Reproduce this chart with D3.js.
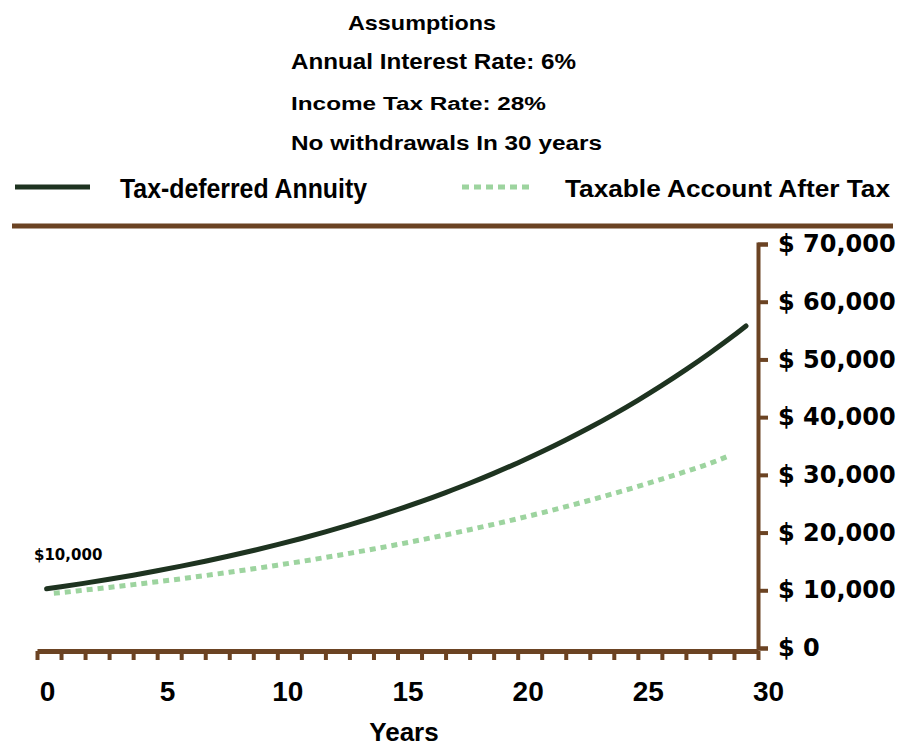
<!DOCTYPE html>
<html>
<head>
<meta charset="utf-8">
<script src="https://cdn.jsdelivr.net/npm/d3@7"></script>
<style>
  body { margin: 0; background: #fff; }
  svg text { font-weight: bold; fill: #000; }
</style>
</head>
<body>
<svg id="chart" width="904" height="747"></svg>
<script>
// values
const annuityYears  = [0.4, 1, 2, 3, 4, 5, 6, 7, 8, 9, 10, 11, 12, 13, 14, 15, 16, 17, 18, 19, 20, 21, 22, 23, 24, 25, 26, 27, 28, 29, 29.5];
const annuityValues = [10250, 10600, 11240, 11910, 12620, 13380, 14190, 15040, 15940, 16890, 17910, 18980, 20120, 21330, 22610, 23970, 25400, 26930, 28540, 30260, 32070, 34000, 36040, 38200, 40490, 42920, 45500, 48230, 51120, 54180, 55800];

const taxableYears  = [0.7, 1, 2, 3, 4, 5, 6, 7, 8, 9, 10, 11, 12, 13, 14, 15, 16, 17, 18, 19, 20, 21, 22, 23, 24, 25, 26, 27, 28, 28.8];
const taxableValues = [9500, 9600, 10050, 10500, 10980, 11480, 12000, 12550, 13120, 13720, 14350, 15000, 15680, 16400, 17150, 17930, 18750, 19600, 20500, 21430, 22400, 23420, 24490, 25600, 26770, 27990, 29260, 30590, 31990, 33300];

const yTicks = [0, 10000, 20000, 30000, 40000, 50000, 60000, 70000];
const xTicks = d3.range(0, 31);
const xLabels = [0, 5, 10, 15, 20, 25, 30];

const notes = ["Assumptions", "Annual Interest Rate: 6%", "Income Tax Rate: 28%", "No withdrawals In 30 years"];
const seriesNames = ["Tax-deferred Annuity", "Taxable Account After Tax"];

const brown = "#6b4323";
const dark = "#1e3320";
const green = "#9dd49f";
const sans = "'Liberation Sans', Arial, sans-serif";
const wide = "'DejaVu Sans', sans-serif";

const svg = d3.select("#chart");

const x = d3.scaleLinear().domain([0, 30]).range([37, 758]);
const y = d3.scaleLinear().domain([0, 70000]).range([648, 244]);

// header notes
const noteStyle = [
  { y: 30, size: 21, len: 148 },
  { y: 69, size: 22, len: 285 },
  { y: 110, size: 18, len: 255 },
  { y: 150, size: 20, len: 311 }
];
svg.selectAll(".note")
  .data(notes)
  .enter()
  .append("text")
  .attr("class", "note")
  .attr("x", (d, i) => i === 0 ? 348 : 291)
  .attr("y", (d, i) => noteStyle[i].y)
  .style("font-family", sans)
  .style("font-size", (d, i) => noteStyle[i].size + "px")
  .attr("textLength", (d, i) => noteStyle[i].len)
  .attr("lengthAdjust", "spacingAndGlyphs")
  .text(d => d);

// legend
svg.append("line")
  .attr("x1", 15).attr("x2", 90).attr("y1", 187).attr("y2", 187)
  .attr("stroke", dark).attr("stroke-width", 5);
svg.append("text")
  .attr("x", 120).attr("y", 198)
  .style("font-family", sans)
  .style("font-size", "27px")
  .attr("textLength", 247).attr("lengthAdjust", "spacingAndGlyphs")
  .text(seriesNames[0]);

svg.append("line")
  .attr("x1", 462).attr("x2", 533).attr("y1", 187).attr("y2", 187)
  .attr("stroke", green).attr("stroke-width", 5)
  .attr("stroke-dasharray", "7 5");
svg.append("text")
  .attr("x", 565).attr("y", 197)
  .style("font-family", sans)
  .style("font-size", "23px")
  .attr("textLength", 325).attr("lengthAdjust", "spacingAndGlyphs")
  .text(seriesNames[1]);

svg.append("line")
  .attr("x1", 12).attr("x2", 893).attr("y1", 226).attr("y2", 226)
  .attr("stroke", brown).attr("stroke-width", 5);

// axes
const xAxis = svg.append("g")
  .attr("transform", `translate(0,${y(0) + 3})`)
  .call(d3.axisBottom(x).tickValues(xTicks).tickSize(9).tickSizeOuter(0)
    .tickFormat(d => xLabels.includes(d) ? d : ""));
xAxis.select(".domain").attr("stroke", brown).attr("stroke-width", 5);
xAxis.selectAll(".tick line").attr("stroke", brown).attr("stroke-width", 4);
xAxis.selectAll(".tick text")
  .style("font-family", sans)
  .style("font-size", "28px")
  .attr("y", 50).attr("dy", 0)
  .attr("dx", 10);

const yAxis = svg.append("g")
  .attr("transform", `translate(${x(30)},0)`)
  .call(d3.axisRight(y).tickValues(yTicks).tickSize(10).tickSizeOuter(10)
    .tickFormat(d => "$ " + d3.format(",")(d)));
yAxis.select(".domain").attr("stroke", brown).attr("stroke-width", 4);
yAxis.selectAll(".tick line").attr("stroke", brown).attr("stroke-width", 4);
yAxis.selectAll(".tick text")
  .style("font-family", wide)
  .style("font-size", "24px")
  .attr("x", 20);

svg.append("text")
  .attr("x", 404).attr("y", 741)
  .attr("text-anchor", "middle")
  .style("font-family", sans)
  .style("font-size", "26px")
  .text("Years");

// series
const line = d3.line()
  .x(d => x(d[0]))
  .y(d => y(d[1]))
  .curve(d3.curveMonotoneX);

svg.append("path")
  .datum(taxableYears.map((t, i) => [t, taxableValues[i]]))
  .attr("d", line)
  .attr("fill", "none")
  .attr("stroke", green)
  .attr("stroke-width", 5)
  .attr("stroke-dasharray", "6 5");

svg.append("path")
  .datum(annuityYears.map((t, i) => [t, annuityValues[i]]))
  .attr("d", line)
  .attr("fill", "none")
  .attr("stroke", dark)
  .attr("stroke-width", 5)
  .attr("stroke-linecap", "round");

svg.append("text")
  .attr("x", 34).attr("y", 560)
  .style("font-family", wide)
  .style("font-size", "15px")
  .text("$10,000");
</script>
</body>
</html>
